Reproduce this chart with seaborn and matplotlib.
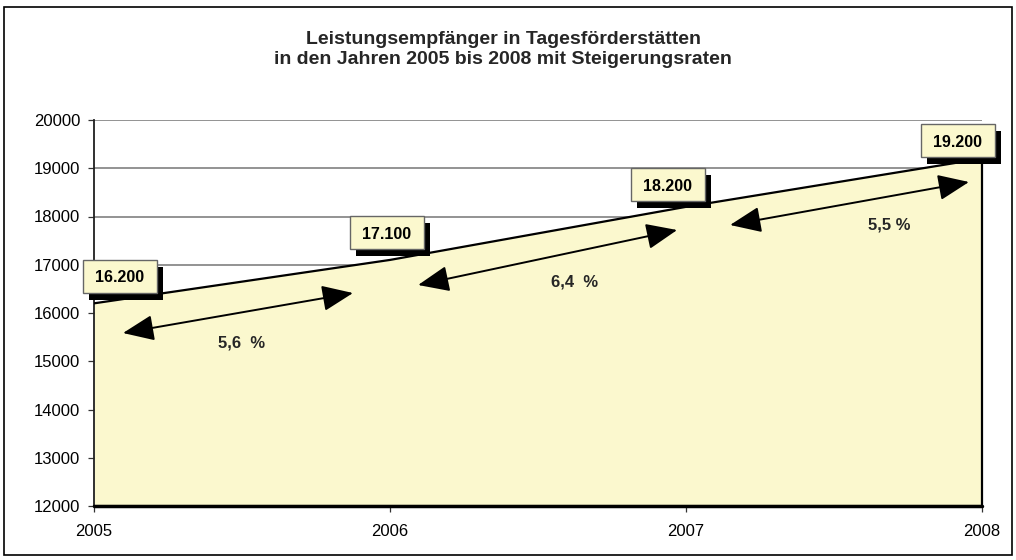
import matplotlib
matplotlib.use("Agg")
import matplotlib.pyplot as plt
import seaborn as sns
import pandas as pd
from matplotlib.patches import Rectangle
from matplotlib.transforms import Affine2D

# ---- data ----
years = [2005, 2006, 2007, 2008]
values = [16200, 17100, 18200, 19200]
value_labels = ["16.200", "17.100", "18.200", "19.200"]
rate_labels = ["5,6  %", "6,4  %", "5,5 %"]
y_ticks = [12000, 13000, 14000, 15000, 16000, 17000, 18000, 19000, 20000]

df = pd.DataFrame({"Jahr": years, "Leistungsempfänger": values})

sns.set_theme(style="white")
plt.rcParams["font.family"] = ["Liberation Sans", "DejaVu Sans"]

W, H = 1016, 560
fig = plt.figure(figsize=(W / 100, H / 100), dpi=100)
ax = fig.add_axes([94 / W, 1 - 506 / H, 888 / W, 386 / H])

fill_col = "#FBF8CE"
ax.fill_between(df["Jahr"], df["Leistungsempfänger"], 12000, color=fill_col, zorder=1, lw=0)
sns.lineplot(data=df, x="Jahr", y="Leistungsempfänger", color="black", lw=1.6, ax=ax, zorder=3)
ax.plot([years[-1], years[-1]], [12000, values[-1]], color="black", lw=1.6, zorder=3, clip_on=False)
ax.plot([years[0], years[-1]], [12000, 12000], color="black", lw=2.5, zorder=3, clip_on=False)

ax.set_xlim(years[0], years[-1])
ax.set_ylim(12000, 20000)
ax.set_yticks(y_ticks)
ax.set_yticklabels([str(t) for t in y_ticks], fontsize=12)
ax.set_xticks(years)
ax.set_xticklabels([str(y) for y in years], fontsize=12)
ax.set_xlabel("")
ax.set_ylabel("")
ax.tick_params(axis="both", direction="out", length=4, width=0.9, colors="#333333",
               labelcolor="black", left=True, bottom=True)
ax.tick_params(axis="y", pad=6)
ax.tick_params(axis="x", pad=9)
for y in y_ticks[1:]:
    ax.axhline(y, color="#808080", lw=1.2, zorder=0.5)
for s in ["top", "right"]:
    ax.spines[s].set_visible(False)
ax.spines["left"].set_color("#202020")
ax.spines["left"].set_linewidth(1.3)
ax.spines["bottom"].set_color("black")
ax.spines["bottom"].set_linewidth(1.5)

# value boxes with drop shadow (sizes / offsets in pixels)
box_offsets = [(26, 27), (-3, 27), (-18, 22), (-24, 18)]
box_w, box_h = 74, 33
shadow = (6, -7)
for x, v, lab, (dx, dy) in zip(years, values, value_labels, box_offsets):
    px, py = ax.transData.transform((x, v))
    cx, cy = px + dx, py + dy
    sh = Rectangle((0, 0), box_w, box_h, fc="black", ec="black", lw=0, clip_on=False,
                   transform=Affine2D().translate(cx - box_w / 2 + shadow[0],
                                                  cy - box_h / 2 + shadow[1]), zorder=5)
    bx = Rectangle((0, 0), box_w, box_h, fc=fill_col, ec="#666666", lw=1.0, clip_on=False,
                   transform=Affine2D().translate(cx - box_w / 2, cy - box_h / 2), zorder=6)
    ax.add_patch(sh)
    ax.add_patch(bx)
    ax.annotate(lab, xy=(x, v), xytext=(dx, dy), textcoords="offset pixels",
                ha="center", va="center_baseline", fontsize=11.5, fontweight="bold",
                color="black", zorder=7, annotation_clip=False)

# growth-rate arrows (double headed) and labels
arrow_starts = [(2005.098, 15585), (2006.095, 16580), (2007.149, 17824)]
arrow_ends = [(2005.875, 16414), (2006.970, 17720), (2007.956, 18715)]
rate_pos = [(2005.50, 15378), (2006.625, 16642), (2007.686, 17824)]
for (x0, y0), (x1, y1), (tx, ty), lab in zip(arrow_starts, arrow_ends, rate_pos, rate_labels):
    ax.annotate("", xy=(x1, y1), xytext=(x0, y0),
                arrowprops=dict(arrowstyle="<|-|>,head_length=1.2,head_width=0.5",
                                color="black", lw=1.4, shrinkA=0, shrinkB=0,
                                mutation_scale=16), zorder=4)
    ax.text(tx, ty, lab, ha="center", va="center", fontsize=12, fontweight="bold", zorder=4)

fig.text(504 / W, 1 - 40 / H, "Leistungsempfänger in Tagesförderstätten",
         ha="center", va="center", fontsize=14, fontweight="bold")
fig.text(503 / W, 1 - 59 / H, "in den Jahren 2005 bis 2008 mit Steigerungsraten",
         ha="center", va="center", fontsize=14, fontweight="bold")

# outer chart border
fig.patches.append(Rectangle((4 / W, 1 - 555 / H), 1008 / W, 548 / H,
                             transform=fig.transFigure, fill=False, ec="black", lw=1.2))

fig.savefig("out.png", dpi=100)
